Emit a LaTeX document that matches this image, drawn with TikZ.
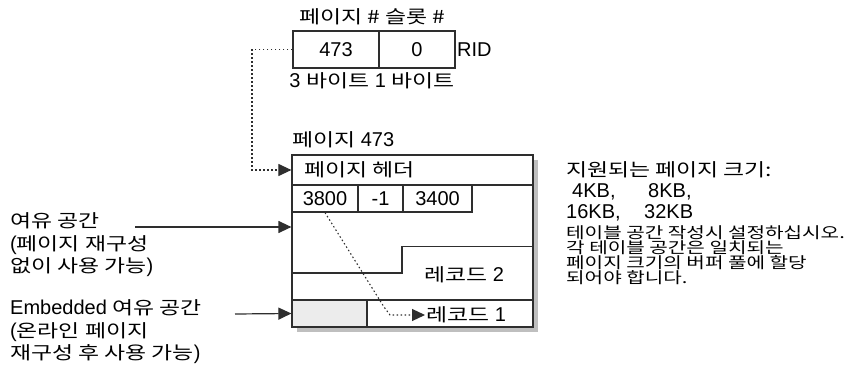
\documentclass[tikz,border=0pt]{standalone}
\usepackage{fontspec}
\usepackage{graphicx}
\setmainfont{Liberation Sans}
\newfontfamily\krfont{Noto Sans CJK KR}
\usetikzlibrary{arrows.meta,shadows}
\newcommand\Kb[1]{\scalebox{1.27}[1]{\krfont\fontsize{18}{20}\selectfont #1}}
\newcommand\Ks[1]{\scalebox{1.3}[1]{\krfont\fontsize{15.5}{15}\selectfont #1}}
\definecolor{linec}{HTML}{2E2E2E}
\definecolor{shadowc}{HTML}{BFBFBF}
\definecolor{cellgray}{HTML}{ECECEC}
\tikzset{
  big/.style={font=\fontsize{20}{22.5}\selectfont, inner sep=0pt},
  cell/.style={draw=linec, line width=1.2pt, inner sep=0pt, font=\fontsize{20}{22}\selectfont},
  tipA/.style={-{Triangle[length=13pt,width=12pt]}},
  solidarrow/.style={tipA, draw=linec, line width=1.2pt},
  dotarrow/.style={tipA, draw=linec, line width=1.1pt, dash pattern=on 1.5pt off 2.5pt},
}
\begin{document}
\begin{tikzpicture}[x=1pt,y=-1pt]
\useasboundingbox (0,0) rectangle (848,371);
% RID
\node[big] (ridlbl) at (372,17) {\Kb{페이지 \# 슬롯 \#}};
\node[cell, minimum width=86pt, minimum height=37pt] (rid1) at (336,49.5) {473};
\node[cell, minimum width=76pt, minimum height=37pt] (rid2) at (417,49.5) {0};
\node[big, anchor=west] (ridtxt) at (457,49.5) {RID};
\node[big] (bytes) at (372,81) {3 \Kb{바이트} 1 \Kb{바이트}};
% page
\node[big, anchor=west] (pagelbl) at (292,140) {\Kb{페이지} 473};
\node[draw=linec, line width=1.2pt, fill=white, minimum width=241pt, minimum height=172pt, inner sep=0pt,
  drop shadow={shadow xshift=5pt, shadow yshift=-5pt, fill=shadowc, opacity=1}] (page) at (412.5,241) {};
\node[draw=linec, line width=1.2pt, minimum width=241pt, minimum height=30pt, inner sep=0pt] (header) at (412.5,170) {};
\node[big, anchor=west] (headertxt) at (304,170) {\Kb{페이지 헤더}};
\node[cell, minimum width=66pt, minimum height=27pt] (s1) at (325,198.5) {3800};
\node[cell, minimum width=45pt, minimum height=27pt] (s2) at (380.5,198.5) {-1};
\node[cell, minimum width=69pt, minimum height=27pt] (s3) at (437.5,198.5) {3400};
% record 2 step
\draw[linec, line width=1.2pt] (page.west |- 0,273) -- (402,273) -- (402,246.5) -- (page.east |- 0,246.5);
\node[big] (rec2) at (464,275) {\Kb{레코드} 2};
% record 1 row
\node[draw=linec, line width=1.2pt, fill=cellgray, minimum width=75pt, minimum height=27pt, inner sep=0pt] (emb) at (329.5,313.5) {};
\node[draw=linec, line width=1.2pt, minimum width=166pt, minimum height=27pt, inner sep=0pt] (rec1row) at (450,313.5) {};
\node[big, anchor=west, inner sep=1pt] (rec1) at (425,315) {\Kb{레코드} 1};
% connectors
\coordinate (bend) at (252,49.5);
\draw[dotarrow] (rid1.west) -- (bend) |- (header.west);
\coordinate (d1) at (384,307);
\coordinate (d2) at (390,315);
\draw[dotarrow] (s1.south) -- (d1) -- (d2) -- (rec1.west);
% left labels
\node[big, anchor=west, align=left] (free) at (10,245) {\Kb{여유 공간}\\(\Kb{페이지 재구성}\\\Kb{없이 사용 가능})};
\coordinate (f1) at (135,227);
\draw[solidarrow] (f1) -- (page.west |- f1);
\node[big, anchor=west, align=left] (embfree) at (10,332) {Embedded \Kb{여유 공간}\\(\Kb{온라인 페이지}\\\Kb{재구성 후 사용 가능})};
\coordinate (f2) at (235,314);
\draw[solidarrow] (f2) -- (emb.west);
% right notes
\node[anchor=west, align=left, inner sep=0pt, font=\fontsize{20}{21}\selectfont] (sizes) at (566,191)
 {\Kb{지원되는 페이지 크기:}\\\hspace*{6pt}\makebox[76pt][l]{4KB,}8KB,\\\makebox[78pt][l]{16KB,}32KB};
\node[anchor=west, align=left, inner sep=0pt, font=\fontsize{15.5}{15}\selectfont] (note) at (566,255)
 {\Ks{테이블 공간 작성시 설정하십시오.}\\\Ks{각 테이블 공간은 일치되는}\\\Ks{페이지 크기의 버퍼 풀에 할당}\\\Ks{되어야 합니다.}};
\end{tikzpicture}
\end{document}
